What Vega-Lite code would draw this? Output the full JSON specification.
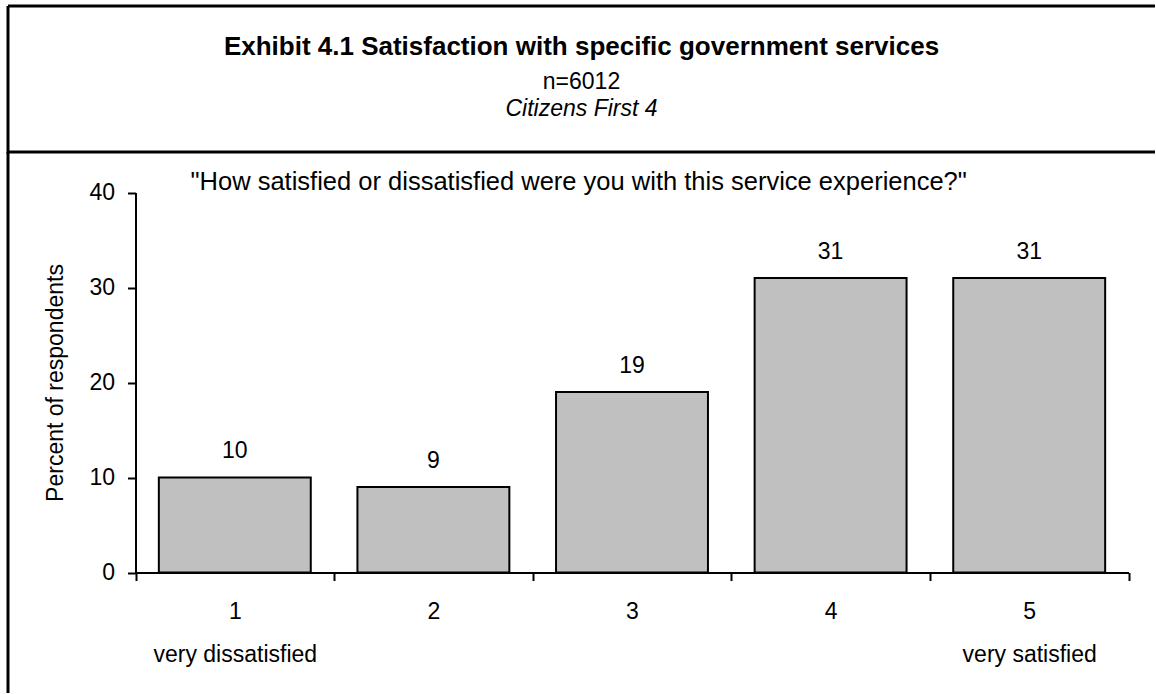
{
  "$schema": "https://vega.github.io/schema/vega-lite/v6.json",
  "padding": {"left": 6, "top": 4, "right": 0, "bottom": 0},
  "spacing": 0,
  "bounds": "flush",
  "background": "white",
  "config": {
    "font": "Liberation Sans",
    "view": {"stroke": "black", "strokeWidth": 3},
    "text": {"color": "black", "font": "Liberation Sans"}
  },
  "vconcat": [
    {
      "width": 1147,
      "height": 146,
      "view": {"stroke": "black", "strokeWidth": 3, "strokeDash": [1147, 146, 1293, 0]},
      "data": {"values": [
        {"line": 1, "text": "Exhibit 4.1 Satisfaction with specific government services"},
        {"line": 2, "text": "n=6012"},
        {"line": 3, "text": "Citizens First 4"}
      ]},
      "encoding": {
        "y": {"field": "line", "type": "quantitative", "axis": null,
              "scale": {"domain": [1, 3], "range": [48.5, 109.5], "zero": false, "nice": false}},
        "text": {"field": "text"}
      },
      "layer": [
        {"transform": [{"filter": "datum.line == 1"}],
         "mark": {"type": "text", "fontWeight": "bold", "fontSize": 26, "baseline": "alphabetic", "align": "center"}},
        {"transform": [{"filter": "datum.line == 2"}],
         "mark": {"type": "text", "fontSize": 23, "baseline": "alphabetic", "align": "center", "dy": 3.8}},
        {"transform": [{"filter": "datum.line == 3"}],
         "mark": {"type": "text", "fontSize": 23, "fontStyle": "italic", "baseline": "alphabetic", "align": "center"}}
      ]
    },
    {
      "width": 1147,
      "height": 541,
      "view": {"stroke": "black", "strokeWidth": 3, "strokeDash": [0, 2835, 541, 0]},
      "layer": [
        {
          "data": {"values": [
            {"rating": "1", "percent": 10},
            {"rating": "2", "percent": 9},
            {"rating": "3", "percent": 19},
            {"rating": "4", "percent": 31},
            {"rating": "5", "percent": 31}
          ]},
          "encoding": {
            "x": {"field": "rating", "type": "ordinal",
                  "scale": {"range": [127.5, 1120.5], "paddingInner": 0, "paddingOuter": 0},
                  "axis": {"title": null, "labelAngle": 0, "tickBand": "extent", "tickSize": 8, "tickWidth": 2,
                           "tickColor": "black", "domainColor": "black", "domainWidth": 2,
                           "labelFontSize": 23, "labelColor": "black", "labelFont": "Liberation Sans",
                           "labelPadding": 38, "labelBaseline": "alphabetic", "labelLineHeight": 42.5,
                           "labelExpr": "datum.value == '1' ? ['1', 'very dissatisfied'] : datum.value == '5' ? ['5', 'very satisfied'] : datum.label",
                           "offset": -120.5, "grid": false, "labelOverlap": false}},
            "y": {"field": "percent", "type": "quantitative",
                  "scale": {"domain": [0, 40], "range": [420.5, 40.5], "nice": false, "zero": true},
                  "axis": {"title": "Percent of respondents", "titleFontSize": 23, "titleFontWeight": "normal",
                           "titleColor": "black", "titleFont": "Liberation Sans", "titlePadding": 21,
                           "values": [0, 10, 20, 30, 40], "tickSize": 8, "tickWidth": 2, "tickColor": "black",
                           "domainColor": "black", "domainWidth": 2, "labelFontSize": 23, "labelColor": "black",
                           "labelFont": "Liberation Sans", "labelPadding": 13, "offset": -127.5, "grid": false}}
          },
          "layer": [
            {"mark": {"type": "bar", "fill": "#c0c0c0", "stroke": "black", "strokeWidth": 2, "width": {"band": 0.765}}},
            {"mark": {"type": "text", "fontSize": 23, "baseline": "alphabetic", "align": "center", "dy": -19.5},
             "encoding": {"text": {"field": "percent", "type": "quantitative"}}}
          ]
        },
        {
          "data": {"values": [{"question": "\"How satisfied or dissatisfied were you with this service experience?\""}]},
          "mark": {"type": "text", "fontSize": 25.5, "baseline": "alphabetic", "align": "left", "dx": 55, "dy": -3},
          "encoding": {
            "x": {"datum": "1", "bandPosition": 0},
            "y": {"datum": 40},
            "text": {"field": "question", "type": "nominal"}
          }
        }
      ]
    }
  ]
}
